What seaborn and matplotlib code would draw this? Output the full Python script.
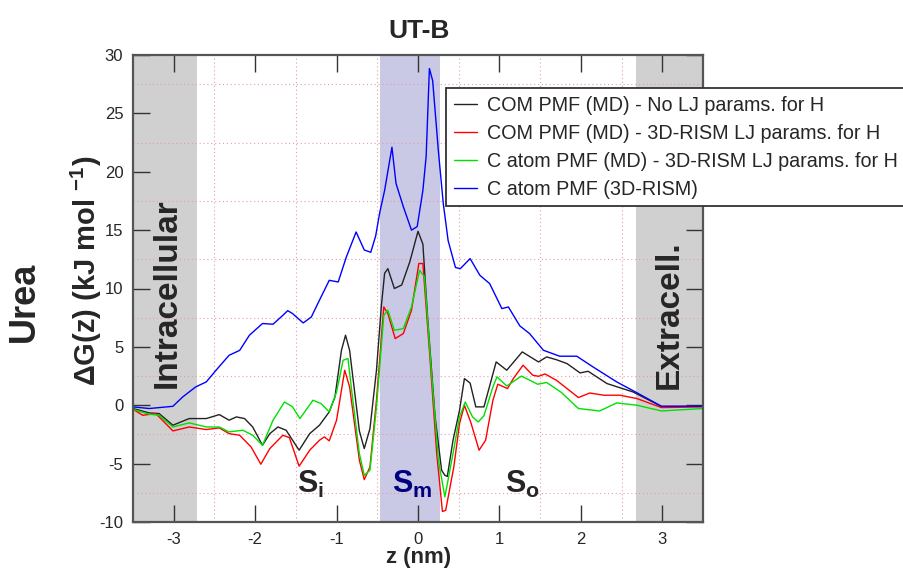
import matplotlib
matplotlib.use("Agg")
import matplotlib.pyplot as plt
import seaborn as sns
import pandas as pd

# ---------------- data ----------------
series_names = [
    "COM PMF (MD) - No LJ params. for H",
    "COM PMF (MD) - 3D-RISM LJ params. for H",
    "C atom PMF (MD) - 3D-RISM LJ params. for H",
    "C atom PMF (3D-RISM)",
]

z_black = [-3.5, -3.30, -3.18, -3.01, -2.81, -2.60, -2.44, -2.32, -2.23, -2.13, -2.03, -1.91, -1.82,
           -1.72, -1.62, -1.46, -1.33, -1.21, -1.09, -1.02, -0.94, -0.89, -0.84, -0.72, -0.66, -0.59,
           -0.51, -0.45, -0.41, -0.37, -0.29, -0.20, -0.10, 0.0, 0.06, 0.12, 0.21, 0.29, 0.33, 0.36,
           0.43, 0.51, 0.57, 0.64, 0.71, 0.81, 0.96, 1.09, 1.28, 1.48, 1.58, 1.70, 1.83, 1.99, 2.09,
           2.32, 2.64, 2.99, 3.5]
dg_black = [-0.28, -0.66, -0.71, -1.71, -1.14, -1.14, -0.8, -1.28, -1.0, -1.14, -1.86, -3.43, -2.43,
            -1.86, -2.14, -3.85, -2.43, -1.71, -0.57, 0.71, 4.71, 6.0, 4.71, -2.2, -3.71, -2.0,
            3.0, 8.5, 11.3, 11.7, 10.0, 10.3, 12.3, 14.9, 13.8, 7.3, -1.0, -5.57, -6.0, -6.1,
            -3.0, -0.43, 2.28, 1.9, -0.14, -0.14, 3.71, 3.0, 4.57, 3.71, 4.14, 3.9, 3.57, 2.77, 2.91,
            1.86, 1.14, -0.1, -0.09]

z_red = [-3.5, -3.38, -3.22, -3.01, -2.81, -2.60, -2.44, -2.32, -2.19, -2.05, -1.93, -1.82, -1.66,
         -1.58, -1.46, -1.33, -1.21, -1.15, -1.09, -1.00, -0.90, -0.84, -0.72, -0.66, -0.59, -0.51,
         -0.42, -0.37, -0.28, -0.18, -0.08, 0.01, 0.06, 0.14, 0.23, 0.30, 0.34, 0.44, 0.51, 0.57,
         0.65, 0.75, 0.83, 0.92, 0.98, 1.10, 1.17, 1.29, 1.41, 1.48, 1.56, 1.70, 1.83, 1.97, 2.11,
         2.28, 2.48, 2.69, 2.99, 3.5]
dg_red = [-0.35, -0.86, -0.71, -2.2, -1.86, -2.08, -1.94, -2.43, -2.57, -3.57, -5.05, -3.71, -2.57,
          -2.77, -5.22, -3.85, -3.0, -2.71, -3.05, -1.28, 3.0, 1.57, -4.71, -6.37, -5.28, 0.43,
          8.42, 7.85, 5.71, 6.14, 8.14, 12.14, 12.14, 4.71, -4.14, -9.1, -9.0, -5.28, -1.57, 0.0,
          -1.5, -3.85, -3.0, 0.43, 1.8, 1.43, 2.28, 3.43, 2.57, 2.48, 2.68, 2.14, 1.43, 0.66, 1.05,
          0.86, 0.86, 0.57, -0.2, -0.14]

z_green = [-3.5, -3.30, -3.18, -3.01, -2.81, -2.60, -2.44, -2.32, -2.15, -2.03, -1.91, -1.78, -1.64,
           -1.54, -1.45, -1.29, -1.19, -1.09, -1.00, -0.92, -0.86, -0.82, -0.72, -0.66, -0.59, -0.51,
           -0.42, -0.37, -0.29, -0.18, -0.08, 0.02, 0.08, 0.16, 0.25, 0.33, 0.43, 0.51, 0.58, 0.67,
           0.74, 0.81, 0.92, 0.97, 1.09, 1.27, 1.47, 1.58, 1.76, 1.97, 2.23, 2.44, 2.69, 2.99, 3.5]
dg_green = [-0.35, -0.77, -0.86, -1.86, -1.51, -1.86, -1.86, -2.28, -2.14, -2.57, -3.43, -1.28, 0.28,
            -0.14, -1.14, 0.43, 0.14, -0.57, 1.14, 3.85, 4.0, 1.57, -4.14, -6.0, -5.57, -0.14,
            7.7, 8.14, 6.42, 6.57, 8.42, 11.56, 11.0, 3.28, -4.71, -7.85, -4.14, -1.0, 0.28, -1.0,
            -1.43, -0.9, 1.57, 2.43, 1.65, 2.5, 1.8, 1.95, 1.1, -0.28, -0.49, 0.2, 0.0, -0.49, -0.28]

z_blue = [-3.5, -3.30, -3.01, -2.89, -2.73, -2.60, -2.48, -2.32, -2.19, -2.07, -1.91, -1.78, -1.66,
          -1.60, -1.54, -1.41, -1.31, -1.21, -1.09, -0.98, -0.88, -0.76, -0.66, -0.58, -0.52, -0.47,
          -0.41, -0.32, -0.27, -0.18, -0.08, -0.01, 0.06, 0.10, 0.14, 0.18, 0.25, 0.31, 0.37, 0.46,
          0.52, 0.64, 0.76, 0.88, 1.03, 1.11, 1.25, 1.37, 1.54, 1.74, 1.95, 2.15, 2.44, 2.67, 2.99, 3.5]
dg_blue = [-0.14, -0.28, -0.09, 0.71, 1.57, 2.0, 3.0, 4.28, 4.7, 6.0, 7.0, 6.94, 7.7,
           8.1, 7.85, 7.05, 7.56, 9.0, 10.7, 10.56, 12.7, 14.84, 13.3, 13.1, 14.5, 16.5,
           18.4, 22.1, 19.0, 17.0, 15.0, 15.3, 18.4, 21.3, 28.84, 27.8, 21.8, 17.3, 14.1, 11.8,
           11.7, 12.56, 11.13, 10.42, 8.28, 8.42, 6.8, 6.14, 4.71, 4.2, 4.2, 3.28, 2.0, 1.14, -0.09, -0.09]

x_ticks = [-3, -2, -1, 0, 1, 2, 3]
y_ticks = [-10, -5, 0, 5, 10, 15, 20, 25, 30]
region_intra = (-3.5, -2.72)
region_sm = (-0.47, 0.27)
region_extra = (2.68, 3.5)

colors = ["#222222", "#ff0000", "#00e000", "#0000ff"]

# ---------------- styling ----------------
sns.set_style("white")
FONT = ["Liberation Sans", "DejaVu Sans"]
plt.rcParams["font.family"] = FONT
plt.rcParams["mathtext.fontset"] = "custom"
plt.rcParams["mathtext.rm"] = "Liberation Sans"
plt.rcParams["mathtext.bf"] = "Liberation Sans:bold"
plt.rcParams["mathtext.it"] = "Liberation Sans:italic"

W, H = 904, 571
fig = plt.figure(figsize=(W / 100, H / 100), dpi=100)
ax = fig.add_axes([133 / W, 1 - 522 / H, 570 / W, 467 / H])

# shaded regions
ax.axvspan(*region_intra, color="#d0d0d0", lw=0, zorder=0)
ax.axvspan(*region_extra, color="#d0d0d0", lw=0, zorder=0)
ax.axvspan(*region_sm, color="#c9c9e6", lw=0, zorder=0)

# curves
for name, z, g, c in zip(series_names,
                         [z_black, z_red, z_green, z_blue],
                         [dg_black, dg_red, dg_green, dg_blue], colors):
    df = pd.DataFrame({"z": z, "dg": g})
    sns.lineplot(data=df, x="z", y="dg", color=c, lw=1.0, label=name, ax=ax,
                 estimator=None, sort=False, zorder=3)

ax.set_xlim(-3.5, 3.5)
ax.set_ylim(-10, 30)
ax.set_xticks(x_ticks)
ax.set_yticks(y_ticks)
ax.set_xticklabels([str(t) for t in x_ticks])
ax.set_yticklabels([str(t) for t in y_ticks])
ax.set_xticks([t + 0.5 for t in range(-3, 3)], minor=True)
ax.set_yticks([t + 2.5 for t in range(-10, 30, 5)], minor=True)
ax.grid(which="minor", color="#e2a0a0", lw=0.8, linestyle=(0, (1, 2.5)), zorder=1)
ax.grid(which="major", visible=False)
ax.set_axisbelow(False)
ax.tick_params(which="major", direction="in", length=12, width=1.0, color="#333333",
               top=True, right=True, bottom=True, left=True, labelsize=12, pad=7)
ax.tick_params(which="minor", length=0)
for sp in ax.spines.values():
    sp.set_color("#555555")
    sp.set_linewidth(1.6)
    sp.set_zorder(5)
ax.set_xlabel("")
ax.set_ylabel("")

leg = ax.legend(loc="upper left", bbox_to_anchor=(446 / W, 1 - 88 / H),
                bbox_transform=fig.transFigure, frameon=True, fancybox=False,
                edgecolor="#333333", framealpha=1, fontsize=14.2, borderpad=0.4,
                labelspacing=0.45, handlelength=1.15, handletextpad=0.55, borderaxespad=0)
leg.get_frame().set_linewidth(1.3)
leg.set_zorder(6)

# texts
fig.text(419 / W, 1 - 38 / H, "UT-B", ha="center", va="baseline", fontsize=19, fontweight="bold")
fig.text(419 / W, 1 - 558 / H, "z (nm)", ha="center", va="center", fontsize=16, fontweight="bold")
fig.text(86 / W, 1 - 271 / H, r"ΔG(z) (kJ mol $^{\mathbf{-1}}$)", rotation=90, ha="center",
         va="center", fontsize=21, fontweight="bold")
fig.text(24 / W, 1 - 302 / H, "Urea", rotation=90, ha="center", va="center",
         fontsize=26, fontweight="bold")
fig.text(167 / W, 1 - 293 / H, "Intracellular", rotation=90, ha="center", va="center",
         fontsize=24, fontweight="bold")
fig.text(669 / W, 1 - 315 / H, "Extracell.", rotation=90, ha="center", va="center",
         fontsize=24, fontweight="bold")

ax.text(-1.49, -7.54, r"$\mathbf{S_i}$", ha="left", va="baseline", fontsize=22, zorder=7)
ax.text(-0.32, -7.54, r"$\mathbf{S_m}$", ha="left", va="baseline", fontsize=22,
        color="#000080", zorder=7)
ax.text(1.07, -7.54, r"$\mathbf{S_o}$", ha="left", va="baseline", fontsize=22, zorder=7)

fig.savefig("out.png", dpi=100)
